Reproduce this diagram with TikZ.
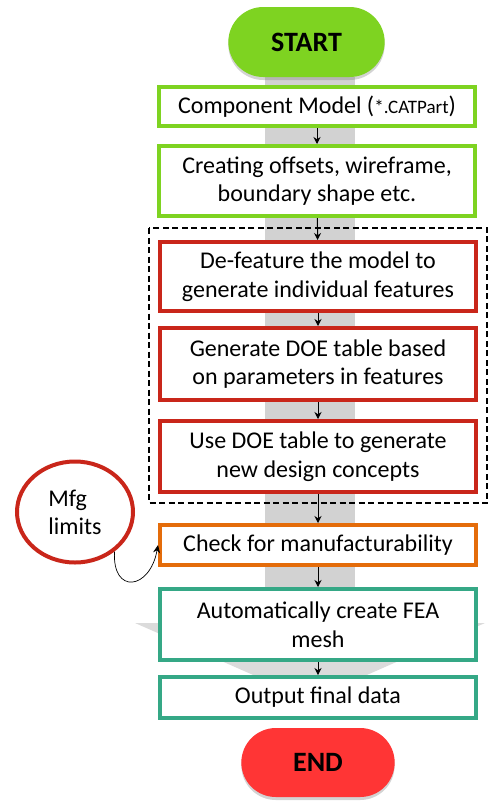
\documentclass[tikz,border=0pt]{standalone}
\usepackage{fontspec}
\setmainfont{Carlito}
\usetikzlibrary{shapes.misc,shapes.geometric,shadows,arrows.meta}
\definecolor{cgreen}{HTML}{7ED321}
\definecolor{cred}{HTML}{C9261A}
\definecolor{corange}{HTML}{E46C0A}
\definecolor{cteal}{HTML}{35A886}
\definecolor{cend}{HTML}{FF3535}
\definecolor{cband}{HTML}{D2D2D2}
\tikzset{
  box/.style={draw, line width=4pt, fill=white, minimum width=316pt, align=center,
    font=\fontsize{24}{28.5}\selectfont, inner sep=0pt},
  pill/.style={rounded rectangle, draw=none, font=\fontsize{28}{32}\selectfont\bfseries,
    drop shadow={opacity=0.35, shadow xshift=0pt, shadow yshift=-3pt}},
  flow/.style={-{Stealth[length=7pt,width=7pt]}, line width=1pt}
}
\begin{document}
\begin{tikzpicture}[x=1pt,y=1pt]
\useasboundingbox (0,0) rectangle (488,-801);
% gray band with block arrow head
\fill[cband] (265,-77) rectangle (355,-623);
\fill[cband!80] (135,-623) -- (485,-623) -- (310,-700) -- cycle;
% dashed group
\draw[dash pattern=on 6pt off 3.5pt, line width=1.1pt] (149,-228) rectangle (487,-503);
% nodes
\node[pill, fill=cgreen, minimum width=163pt, minimum height=70pt] (start) at (306.5,-42) {START};
\node[box, draw=cgreen, minimum height=39pt] (comp) at (317,-106.5) {Component Model ({\fontsize{19}{22}\selectfont*.CATPart})};
\node[box, draw=cgreen, minimum height=70pt] (create) at (317,-181) {Creating offsets, wireframe,\\boundary shape etc.};
\node[box, draw=cred, minimum height=69pt] (def) at (318,-276.5) {De-feature the model to\\generate individual features};
\node[box, draw=cred, minimum height=72pt] (gen) at (318,-364) {Generate DOE table based\\on parameters in features};
\node[box, draw=cred, minimum height=71pt] (use) at (318,-456.5) {Use DOE table to generate\\new design concepts};
\node[box, draw=corange, minimum height=40pt] (check) at (318,-545) {Check for manufacturability};
\node[box, draw=cteal, minimum height=71pt] (fea) at (318,-624.5) {Automatically create FEA\\mesh};
\node[box, draw=cteal, minimum height=41pt] (out) at (318,-697.5) {Output final data};
\node[pill, fill=cend, minimum width=160pt, minimum height=69pt] (end) at (318,-762.5) {END};
\node[ellipse, draw=cred, line width=4pt, fill=white, minimum width=116pt, minimum height=101pt,
  align=left, font=\fontsize{24}{28}\selectfont, inner sep=0pt] (mfg) at (75,-512) {Mfg\\limits};
% connectors
\draw[flow] (comp) -- (create);
\draw[flow] (create) -- (def);
\draw[flow] (def) -- (gen);
\draw[flow] (gen) -- (use);
\draw[flow] (use) -- (check);
\draw[flow] (check) -- (fea);
\draw[flow] (fea) -- (out);
\draw[-{Stealth[length=8pt,width=7pt]}, line width=0.7pt] (mfg.-45) .. controls (112,-595) and (150,-590) .. (check.west);
\end{tikzpicture}
\end{document}
